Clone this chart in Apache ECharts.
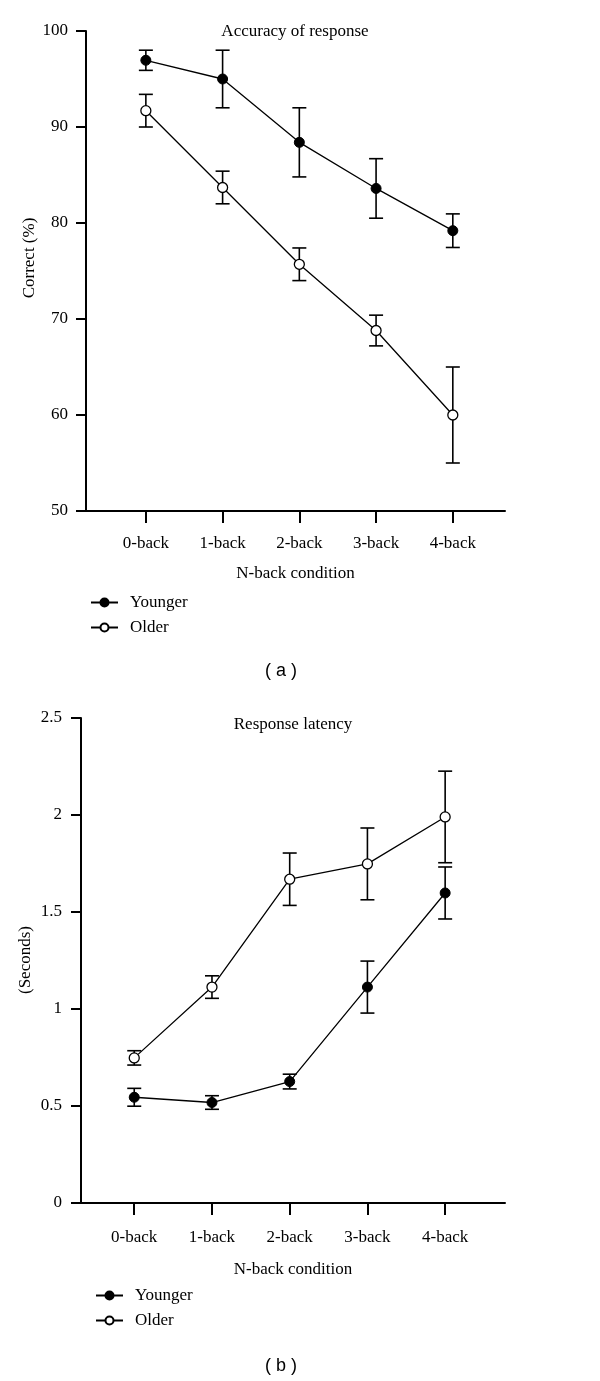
<!DOCTYPE html>
<html>
<head>
<meta charset="utf-8">
<script src="https://cdn.jsdelivr.net/npm/echarts@6/dist/echarts.min.js"></script>
<style>
html,body{margin:0;padding:0;background:#fff;}
#c{width:600px;height:1381px;}
</style>
</head>
<body>
<div id="c"></div>
<script>
// ---- data ----
const categories = ['0-back', '1-back', '2-back', '3-back', '4-back'];
const accYounger = [96.95, 95.0, 88.4, 83.6, 79.2];
const accYoungerErr = [1.05, 3.0, 3.6, 3.1, 1.75];
const accOlder = [91.7, 83.7, 75.7, 68.8, 60.0];
const accOlderErr = [1.7, 1.7, 1.7, 1.6, 5.0];
const latYounger = [0.545, 0.518, 0.626, 1.113, 1.598];
const latYoungerErr = [0.046, 0.035, 0.038, 0.134, 0.134];
const latOlder = [0.748, 1.113, 1.669, 1.748, 1.990];
const latOlderErr = [0.037, 0.058, 0.135, 0.185, 0.236];
const accTicks = [50, 60, 70, 80, 90, 100];
const latTicks = [0, 0.5, 1, 1.5, 2, 2.5];

const SERIF = '"Liberation Serif", "DejaVu Serif", serif';
const FS = 17;
const catIdx = categories.map((c, i) => i);

function pts(vals) { return vals.map((v, i) => [i, v]); }
function errs(vals, e) { return vals.map((v, i) => [i, v - e[i], v + e[i]]); }

function errRender(params, api) {
  const x = api.value(0), lo = api.value(1), hi = api.value(2);
  const a = api.coord([x, lo]), b = api.coord([x, hi]);
  const w = 7;
  const st = { stroke: '#000', lineWidth: 1.6 };
  return {
    type: 'group',
    children: [
      { type: 'line', shape: { x1: a[0], y1: a[1], x2: b[0], y2: b[1] }, style: st },
      { type: 'line', shape: { x1: a[0] - w, y1: a[1], x2: a[0] + w, y2: a[1] }, style: st },
      { type: 'line', shape: { x1: b[0] - w, y1: b[1], x2: b[0] + w, y2: b[1] }, style: st }
    ]
  };
}

function xAxisCfg(gi, min, max, margin, gap) {
  return {
    type: 'value', gridIndex: gi, min: min, max: max,
    name: 'N-back condition', nameLocation: 'middle', nameGap: gap,
    nameTextStyle: { fontFamily: SERIF, fontSize: FS, color: '#000' },
    axisLine: { show: true, onZero: false, lineStyle: { color: '#000', width: 2 } },
    axisTick: { show: true, customValues: catIdx, length: 12, lineStyle: { color: '#000', width: 2 } },
    axisLabel: { customValues: catIdx, formatter: v => categories[Math.round(v)], margin: margin,
      fontFamily: SERIF, fontSize: FS, color: '#000' },
    splitLine: { show: false }
  };
}
function yAxisCfg(gi, ticks, margin) {
  return {
    type: 'value', gridIndex: gi, min: ticks[0], max: ticks[ticks.length - 1],
    interval: ticks[1] - ticks[0],
    axisLine: { show: true, onZero: false, lineStyle: { color: '#000', width: 2 } },
    axisTick: { show: true, length: 10, lineStyle: { color: '#000', width: 2 } },
    axisLabel: { margin: margin, fontFamily: SERIF, fontSize: FS, color: '#000' },
    splitLine: { show: false }
  };
}
function lineSeries(name, gi, vals, filled) {
  return {
    type: 'line', name: name, xAxisIndex: gi, yAxisIndex: gi, data: pts(vals),
    symbol: 'circle', symbolSize: 10, z: 5,
    lineStyle: { color: '#000', width: 1.3 },
    itemStyle: filled ? { color: '#000', borderColor: '#000', borderWidth: 1 }
                      : { color: '#fff', borderColor: '#000', borderWidth: 1.3 },
    emphasis: { disabled: true }
  };
}
function errSeries(name, gi, vals, e) {
  return {
    type: 'custom', name: name, xAxisIndex: gi, yAxisIndex: gi, z: 3,
    data: errs(vals, e), encode: { x: 0, y: [1, 2] }, renderItem: errRender, silent: true
  };
}
function legendCfg(left, top) {
  return {
    data: ['Younger', 'Older'], orient: 'vertical', left: left, top: top,
    itemWidth: 27, itemHeight: 10, itemGap: 8, selectedMode: false,
    textStyle: { fontFamily: SERIF, fontSize: FS, color: '#000', padding: [0, 0, 0, 7] }
  };
}

const chart = echarts.init(document.getElementById('c'), null, { renderer: 'canvas' });
chart.setOption({
  animation: false,
  backgroundColor: '#fff',
  grid: [
    { left: 86, right: 95, top: 31, height: 480 },
    { left: 81, right: 95, top: 718, height: 485 }
  ],
  xAxis: [xAxisCfg(0, -0.78, 4.68, 24, 54), xAxisCfg(1, -0.685, 4.77, 26, 58)],
  yAxis: [yAxisCfg(0, accTicks, 18), yAxisCfg(1, latTicks, 19)],
  legend: [legendCfg(85, 589), legendCfg(90, 1282)],
  series: [
    errSeries('Younger err a', 0, accYounger, accYoungerErr),
    errSeries('Older err a', 0, accOlder, accOlderErr),
    lineSeries('Younger', 0, accYounger, true),
    lineSeries('Older', 0, accOlder, false),
    errSeries('Younger err b', 1, latYounger, latYoungerErr),
    errSeries('Older err b', 1, latOlder, latOlderErr),
    lineSeries('Younger', 1, latYounger, true),
    lineSeries('Older', 1, latOlder, false)
  ],
  graphic: [
    { type: 'text', x: 295, y: 32, style: { text: 'Accuracy of response', font: FS + 'px ' + SERIF, fill: '#000', textAlign: 'center', textVerticalAlign: 'middle' } },
    { type: 'text', x: 293, y: 725, style: { text: 'Response latency', font: FS + 'px ' + SERIF, fill: '#000', textAlign: 'center', textVerticalAlign: 'middle' } },
    { type: 'text', x: 30, y: 258, rotation: Math.PI / 2, style: { text: 'Correct (%)', font: FS + 'px ' + SERIF, fill: '#000', textAlign: 'center', textVerticalAlign: 'middle' } },
    { type: 'text', x: 26, y: 960, rotation: Math.PI / 2, style: { text: '(Seconds)', font: FS + 'px ' + SERIF, fill: '#000', textAlign: 'center', textVerticalAlign: 'middle' } },
    { type: 'text', x: 281, y: 671, style: { text: '( a )', font: '18px "Liberation Sans", Arial, sans-serif', fill: '#000', textAlign: 'center', textVerticalAlign: 'middle' } },
    { type: 'text', x: 281, y: 1366, style: { text: '( b )', font: '18px "Liberation Sans", Arial, sans-serif', fill: '#000', textAlign: 'center', textVerticalAlign: 'middle' } }
  ]
});
</script>
</body>
</html>
